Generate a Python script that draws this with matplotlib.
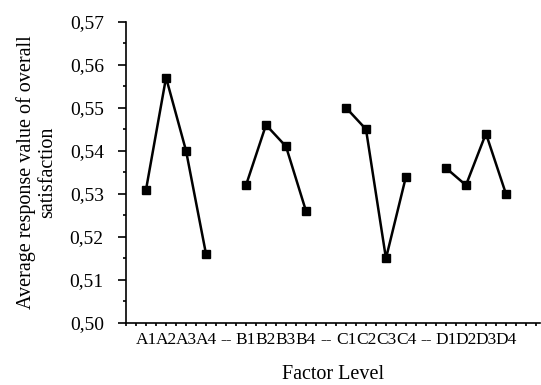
import numpy as np
import matplotlib
matplotlib.use("Agg")
import matplotlib.pyplot as plt
from matplotlib.ticker import MultipleLocator, FuncFormatter

plt.rcParams['font.family'] = ['Liberation Serif', 'DejaVu Serif']

# Factor levels and mean response values
groups = ["A", "B", "C", "D"]
levels = ["1", "2", "3", "4"]
values = {
    "A": [0.531, 0.557, 0.540, 0.516],
    "B": [0.532, 0.546, 0.541, 0.526],
    "C": [0.550, 0.545, 0.515, 0.534],
    "D": [0.536, 0.532, 0.544, 0.530],
}
separator = "--"

fig = plt.figure(figsize=(5.41, 3.85), dpi=100)
ax = fig.add_axes([0.233, 0.161, 0.765, 0.783])

tick_pos = []
tick_lab = []
pos = 1
for gi, g in enumerate(groups):
    x = np.arange(pos, pos + len(levels))
    ax.plot(x, values[g], color="black", lw=1.8, marker="s", ms=6,
            mfc="black", mec="black")
    tick_pos.extend(x)
    tick_lab.extend([g + l for l in levels])
    pos += len(levels)
    if gi < len(groups) - 1:
        tick_pos.append(pos)
        tick_lab.append(separator)
        pos += 1

ax.set_xlim(0, 20.7)
ax.set_ylim(0.50, 0.57)
ax.set_xticks(tick_pos)
ax.set_xticklabels(tick_lab, fontsize=12.5)
ax.xaxis.set_minor_locator(MultipleLocator(0.5))
ax.yaxis.set_major_locator(MultipleLocator(0.01))
ax.yaxis.set_minor_locator(MultipleLocator(0.005))
ax.yaxis.set_major_formatter(FuncFormatter(lambda v, p: f"{v:.2f}".replace(".", ",")))
ax.tick_params(axis="y", which="major", direction="out", length=6, width=1.2,
               labelsize=14, pad=10)
ax.tick_params(axis="y", which="minor", direction="out", length=2.5, width=1.2)
ax.tick_params(axis="x", which="both", direction="out", length=2.5, width=1.2, pad=4)

for s in ["top", "right"]:
    ax.spines[s].set_visible(False)
for s in ["left", "bottom"]:
    ax.spines[s].set_linewidth(1.2)

ax.set_xlabel("Factor Level", fontsize=14.5, labelpad=12)
ax.set_ylabel("Average response value of overall\nsatisfaction", fontsize=14.5,
              labelpad=9, linespacing=1.15)

fig.savefig("out.png", dpi=100)
